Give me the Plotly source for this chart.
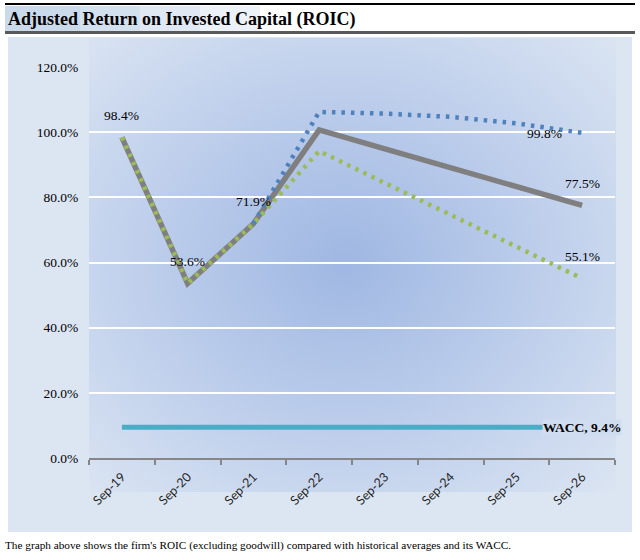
import base64
import plotly.graph_objects as go

categories = ["Sep-19", "Sep-20", "Sep-21", "Sep-22", "Sep-23", "Sep-24", "Sep-25", "Sep-26"]
roic_actual = [98.4, 53.6, 71.9, 100.7, 94.9, 89.1, 83.3, 77.5]
roic_high = [None, None, 71.9, 106.2, 105.7, 104.7, 102.7, 99.8]
roic_low = [98.4, 53.6, 71.9, 94.2, 84.4, 74.6, 64.8, 55.1]
wacc = [9.4] * 8
y_ticks = [0, 20, 40, 60, 80, 100, 120]

title_text = "Adjusted Return on Invested Capital (ROIC)"
caption_text = "The graph above shows the firm's ROIC (excluding goodwill) compared with historical averages and its WACC."

W, H = 640, 560
L, R, T, B = 89, 615, 67, 458


def px(x):
    return (x - L) / (R - L)


def py(y):
    return (B - y) / (B - T)


fig = go.Figure()

fig.add_trace(go.Scatter(x=categories, y=wacc, mode="lines",
                         line=dict(color="#4bacc6", width=5), hoverinfo="skip"))
fig.add_trace(go.Scatter(x=categories, y=roic_actual, mode="lines",
                         line=dict(color="#7f7f7f", width=5.5), hoverinfo="skip"))
fig.add_trace(go.Scatter(x=categories, y=roic_high, mode="lines",
                         line=dict(color="#4f81bd", width=4.5, dash="3.5px,6px"), hoverinfo="skip"))
fig.add_trace(go.Scatter(x=categories, y=roic_low, mode="lines",
                         line=dict(color="#9bbb59", width=4.5, dash="3.5px,5.5px"), hoverinfo="skip"))

# chart panel with radial gradient plot area, as an inline SVG background image
PX0, PX1, PY0, PY1 = 8, 632, 37, 532
GX0, GX1, GY0, GY1 = 89, 616, 38, 492
pw, ph = PX1 - PX0, PY1 - PY0
gw, gh = GX1 - GX0, GY1 - GY0
gcx = (345 - GX0) / gw
gcy = (262 - GY0) / gh
svg = (
    '<svg xmlns="http://www.w3.org/2000/svg" width="%d" height="%d" viewBox="0 0 %d %d">'
    '<defs><radialGradient id="g" cx="%.3f" cy="%.3f" r="0.71" fx="%.3f" fy="%.3f">'
    '<stop offset="0" stop-color="#9fb7e2"/>'
    '<stop offset="0.5" stop-color="#bccdeb"/>'
    '<stop offset="1" stop-color="#dae4f2"/>'
    '</radialGradient></defs>'
    '<rect x="0" y="0" width="%d" height="%d" fill="#dce6f2"/>'
    '<rect x="%d" y="%d" width="%d" height="%d" fill="url(#g)"/>'
    '</svg>'
) % (pw, ph, pw, ph, gcx, gcy, gcx, gcy, pw, ph, GX0 - PX0, GY0 - PY0, gw, gh)
uri = "data:image/svg+xml;base64," + base64.b64encode(svg.encode()).decode()

images = [dict(source=uri, xref="paper", yref="paper", x=px(PX0), y=py(PY0),
               sizex=pw / (R - L), sizey=ph / (B - T), xanchor="left", yanchor="top",
               sizing="stretch", layer="below")]

shapes = []
# title bar gradient
for x1, op in [(260, 0.25), (200, 0.25), (140, 0.3), (80, 0.3)]:
    shapes.append(dict(type="rect", xref="paper", yref="paper", layer="below",
                       x0=px(5), x1=px(x1), y0=py(31), y1=py(6),
                       fillcolor="rgba(184,204,228,%s)" % op, line=dict(width=0)))
# title bar lines
shapes.append(dict(type="line", xref="paper", yref="paper",
                   x0=px(5), x1=px(635), y0=py(4), y1=py(4),
                   line=dict(color="#000000", width=2)))
shapes.append(dict(type="line", xref="paper", yref="paper",
                   x0=px(5), x1=px(635), y0=py(32.5), y1=py(32.5),
                   line=dict(color="#595959", width=3)))

serif = "Liberation Serif"
annotations = [
    dict(text="<b>%s</b>" % title_text, xref="paper", yref="paper", x=px(6), y=py(19),
         xanchor="left", yanchor="middle", showarrow=False,
         font=dict(family=serif, size=18, color="#000000")),
    dict(text=caption_text, xref="paper", yref="paper", x=px(3), y=py(545),
         xanchor="left", yanchor="middle", showarrow=False,
         font=dict(family=serif, size=11.25, color="#000000")),
]


def lab(i, v, xs=0, ys=22, bold=False, prefix="", bg=None):
    t = prefix + "%.1f%%" % v
    if bold:
        t = "<b>%s</b>" % t
    d = dict(text=t, x=categories[i], y=v, xref="x", yref="y", showarrow=False,
             xshift=xs, yshift=ys, font=dict(family=serif, size=13.5, color="#000000"))
    if bg:
        d["bgcolor"] = bg
        d["borderpad"] = 0
    return d


annotations += [
    lab(0, roic_actual[0]),
    lab(1, roic_actual[1]),
    lab(2, roic_actual[2]),
    lab(7, roic_high[7], xs=-38, ys=-1),
    lab(7, roic_actual[7]),
    lab(7, roic_low[7]),
    lab(7, wacc[7], ys=0, bold=True, prefix="WACC, ", bg="#d0dcef"),
]

fig.update_layout(
    width=W, height=H,
    margin=dict(l=L, r=W - R, t=T, b=H - B, pad=0),
    paper_bgcolor="#ffffff",
    plot_bgcolor="rgba(0,0,0,0)",
    showlegend=False,
    shapes=shapes,
    images=images,
    annotations=annotations,
    xaxis=dict(
        type="category", showgrid=False, showline=True, linecolor="#868686", linewidth=1.5,
        ticks="outside", ticklen=5, tickcolor="#868686", tickwidth=1.5, tickson="boundaries",
        tickangle=-45, ticklabelstandoff=5,
        tickfont=dict(family="Lato, Liberation Sans, sans-serif", size=12.5, color="#262626"),
        range=[-0.5, 7.5], zeroline=False,
    ),
    yaxis=dict(
        range=[0, 120], tickvals=y_ticks, ticktext=["%.1f%%" % v for v in y_ticks],
        showgrid=True, gridcolor="#ffffff", gridwidth=2, zeroline=False, showline=False,
        ticks="outside", ticklen=7, tickcolor="rgba(0,0,0,0)",
        tickfont=dict(family=serif, size=13.5, color="#000000"),
    ),
)

fig.write_html("out.html", config={"displayModeBar": False},
               post_script="document.body.style.margin='0';")
